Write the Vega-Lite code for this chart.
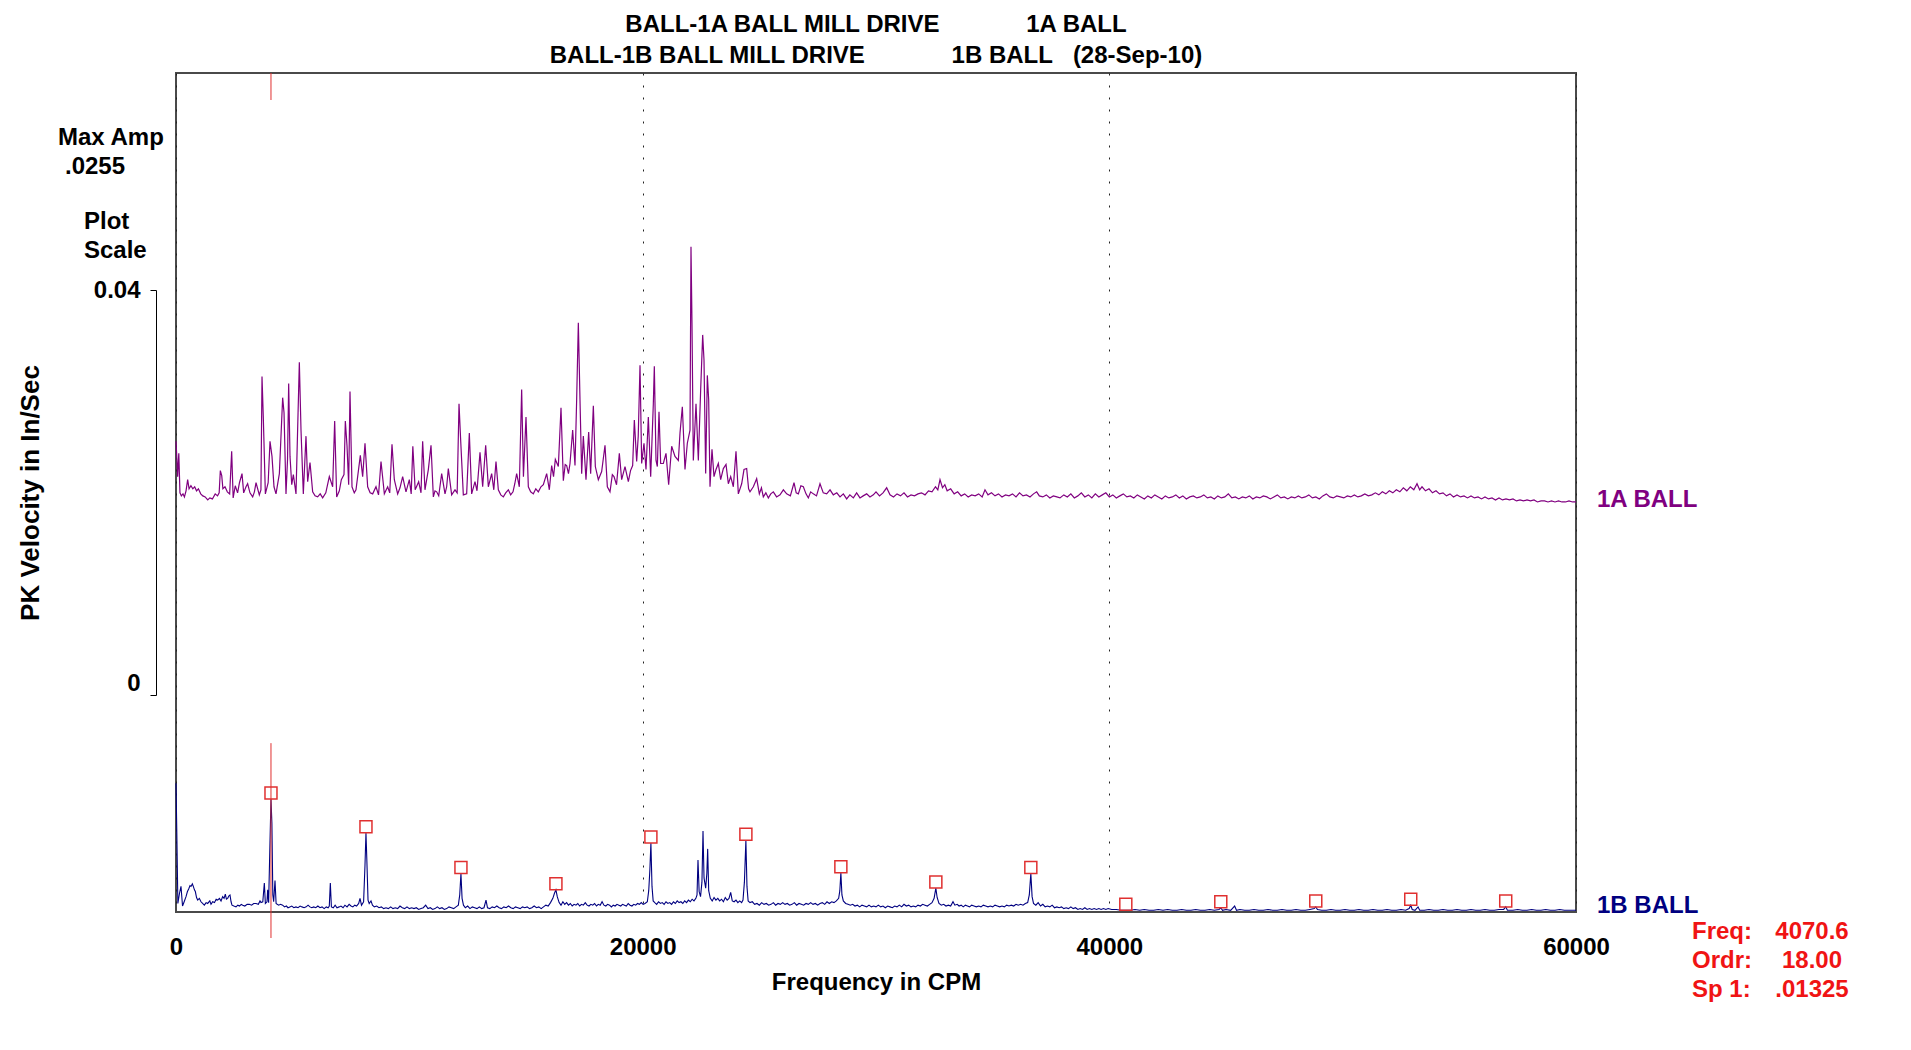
{
  "$schema": "https://vega.github.io/schema/vega-lite/v6.json",
  "width": 1400,
  "height": 839,
  "autosize": {"type": "none"},
  "padding": {"left": 176, "top": 73, "right": 335, "bottom": 138},
  "background": "white",
  "config": {
    "font": "Liberation Sans",
    "view": {"stroke": "#4a4a4a", "strokeWidth": 2},
    "text": {"font": "Liberation Sans", "fontWeight": "bold", "fontSize": 24}
  },
  "title": {
    "text": [
      "BALL-1A BALL MILL DRIVE\u00a0\u00a0\u00a0\u00a0\u00a0\u00a0\u00a0\u00a0\u00a0\u00a0\u00a0\u00a0\u00a01A BALL",
      "BALL-1B BALL MILL DRIVE\u00a0\u00a0\u00a0\u00a0\u00a0\u00a0\u00a0\u00a0\u00a0\u00a0\u00a0\u00a0\u00a01B BALL\u00a0\u00a0\u00a0(28-Sep-10)"
    ],
    "frame": "group",
    "anchor": "middle",
    "font": "Liberation Sans",
    "fontSize": 24,
    "fontWeight": "bold",
    "color": "black",
    "lineHeight": 31,
    "offset": 5
  },
  "datasets": {
    "ball1a": [
      {"cpm":0,"amp":0.0063},{"cpm":40,"amp":0.0045},{"cpm":70,"amp":0.0028},{"cpm":120,"amp":0.0051},{"cpm":170,"amp":0.0012},
      {"cpm":230,"amp":0.0009},{"cpm":300,"amp":0.0011},{"cpm":360,"amp":0.0008},{"cpm":430,"amp":0.0014},{"cpm":500,"amp":0.0025},
      {"cpm":560,"amp":0.0016},{"cpm":640,"amp":0.0019},{"cpm":720,"amp":0.0016},{"cpm":800,"amp":0.0018},{"cpm":880,"amp":0.0014},
      {"cpm":960,"amp":0.0016},{"cpm":1060,"amp":0.0011},{"cpm":1150,"amp":0.0009},{"cpm":1250,"amp":0.0008},{"cpm":1360,"amp":0.0005},
      {"cpm":1450,"amp":0.0007},{"cpm":1560,"amp":0.0006},{"cpm":1680,"amp":0.0011},{"cpm":1780,"amp":0.0009},{"cpm":1850,"amp":0.0012},
      {"cpm":1900,"amp":0.0034},{"cpm":1960,"amp":0.0029},{"cpm":2010,"amp":0.0016},{"cpm":2100,"amp":0.0018},{"cpm":2200,"amp":0.0013},
      {"cpm":2300,"amp":0.0011},{"cpm":2386,"amp":0.0053},{"cpm":2450,"amp":0.0007},{"cpm":2540,"amp":0.0019},{"cpm":2640,"amp":0.0012},
      {"cpm":2720,"amp":0.0022},{"cpm":2829,"amp":0.0031},{"cpm":2900,"amp":0.0012},{"cpm":3000,"amp":0.0018},{"cpm":3070,"amp":0.0021},
      {"cpm":3170,"amp":0.0012},{"cpm":3286,"amp":0.0008},{"cpm":3360,"amp":0.0013},{"cpm":3430,"amp":0.0022},{"cpm":3571,"amp":0.0010},
      {"cpm":3640,"amp":0.0015},{"cpm":3686,"amp":0.0127},{"cpm":3740,"amp":0.0088},{"cpm":3830,"amp":0.0011},{"cpm":3950,"amp":0.0022},
      {"cpm":4029,"amp":0.0063},{"cpm":4114,"amp":0.0048},{"cpm":4200,"amp":0.0018},{"cpm":4286,"amp":0.0011},{"cpm":4430,"amp":0.0031},
      {"cpm":4571,"amp":0.0106},{"cpm":4630,"amp":0.0091},{"cpm":4714,"amp":0.0011},{"cpm":4780,"amp":0.0045},{"cpm":4829,"amp":0.0120},
      {"cpm":4886,"amp":0.0048},{"cpm":4960,"amp":0.0020},{"cpm":5029,"amp":0.0030},{"cpm":5143,"amp":0.0011},{"cpm":5286,"amp":0.0141},
      {"cpm":5357,"amp":0.0074},{"cpm":5457,"amp":0.0011},{"cpm":5571,"amp":0.0068},{"cpm":5643,"amp":0.0023},{"cpm":5743,"amp":0.0042},
      {"cpm":5857,"amp":0.0013},{"cpm":5960,"amp":0.0009},{"cpm":6071,"amp":0.0008},{"cpm":6180,"amp":0.0011},{"cpm":6286,"amp":0.0007},
      {"cpm":6420,"amp":0.0012},{"cpm":6571,"amp":0.0028},{"cpm":6714,"amp":0.0018},{"cpm":6800,"amp":0.0083},{"cpm":6886,"amp":0.0008},
      {"cpm":7000,"amp":0.0014},{"cpm":7086,"amp":0.0025},{"cpm":7200,"amp":0.0030},{"cpm":7257,"amp":0.0083},{"cpm":7330,"amp":0.0058},
      {"cpm":7400,"amp":0.0020},{"cpm":7457,"amp":0.0112},{"cpm":7543,"amp":0.0018},{"cpm":7640,"amp":0.0012},{"cpm":7714,"amp":0.0015},
      {"cpm":7900,"amp":0.0049},{"cpm":8000,"amp":0.0028},{"cpm":8100,"amp":0.0061},{"cpm":8214,"amp":0.0018},{"cpm":8320,"amp":0.0012},
      {"cpm":8429,"amp":0.0011},{"cpm":8571,"amp":0.0018},{"cpm":8680,"amp":0.0010},{"cpm":8786,"amp":0.0043},{"cpm":8929,"amp":0.0011},
      {"cpm":9071,"amp":0.0018},{"cpm":9160,"amp":0.0012},{"cpm":9257,"amp":0.0060},{"cpm":9357,"amp":0.0025},{"cpm":9500,"amp":0.0011},
      {"cpm":9600,"amp":0.0017},{"cpm":9714,"amp":0.0028},{"cpm":9857,"amp":0.0013},{"cpm":10000,"amp":0.0025},{"cpm":10080,"amp":0.0011},
      {"cpm":10150,"amp":0.0058},{"cpm":10250,"amp":0.0015},{"cpm":10400,"amp":0.0023},{"cpm":10500,"amp":0.0012},{"cpm":10571,"amp":0.0063},
      {"cpm":10670,"amp":0.0015},{"cpm":10814,"amp":0.0035},{"cpm":10929,"amp":0.0059},{"cpm":11029,"amp":0.0008},{"cpm":11100,"amp":0.0014},
      {"cpm":11171,"amp":0.0013},{"cpm":11260,"amp":0.0009},{"cpm":11386,"amp":0.0031},{"cpm":11529,"amp":0.0011},{"cpm":11600,"amp":0.0018},
      {"cpm":11671,"amp":0.0036},{"cpm":11814,"amp":0.0010},{"cpm":11957,"amp":0.0015},{"cpm":12050,"amp":0.0012},{"cpm":12129,"amp":0.0100},
      {"cpm":12200,"amp":0.0064},{"cpm":12314,"amp":0.0010},{"cpm":12457,"amp":0.0011},{"cpm":12571,"amp":0.0071},{"cpm":12671,"amp":0.0011},
      {"cpm":12814,"amp":0.0023},{"cpm":12900,"amp":0.0014},{"cpm":13029,"amp":0.0052},{"cpm":13143,"amp":0.0018},{"cpm":13272,"amp":0.0059},
      {"cpm":13386,"amp":0.0018},{"cpm":13529,"amp":0.0031},{"cpm":13620,"amp":0.0015},{"cpm":13714,"amp":0.0043},{"cpm":13814,"amp":0.0015},
      {"cpm":13920,"amp":0.0010},{"cpm":14029,"amp":0.0008},{"cpm":14130,"amp":0.0012},{"cpm":14243,"amp":0.0015},{"cpm":14343,"amp":0.0010},
      {"cpm":14443,"amp":0.0013},{"cpm":14520,"amp":0.0021},{"cpm":14600,"amp":0.0031},{"cpm":14714,"amp":0.0018},{"cpm":14814,"amp":0.0114},
      {"cpm":14890,"amp":0.0028},{"cpm":15000,"amp":0.0087},{"cpm":15100,"amp":0.0018},{"cpm":15200,"amp":0.0013},{"cpm":15314,"amp":0.0011},
      {"cpm":15420,"amp":0.0016},{"cpm":15529,"amp":0.0013},{"cpm":15640,"amp":0.0018},{"cpm":15743,"amp":0.0020},{"cpm":15886,"amp":0.0031},
      {"cpm":16000,"amp":0.0015},{"cpm":16100,"amp":0.0039},{"cpm":16180,"amp":0.0028},{"cpm":16257,"amp":0.0045},{"cpm":16386,"amp":0.0038},
      {"cpm":16500,"amp":0.0096},{"cpm":16600,"amp":0.0024},{"cpm":16680,"amp":0.0040},{"cpm":16743,"amp":0.0039},{"cpm":16820,"amp":0.0031},
      {"cpm":16886,"amp":0.0041},{"cpm":17000,"amp":0.0074},{"cpm":17100,"amp":0.0039},{"cpm":17171,"amp":0.0104},{"cpm":17243,"amp":0.0180},
      {"cpm":17314,"amp":0.0104},{"cpm":17386,"amp":0.0031},{"cpm":17457,"amp":0.0068},{"cpm":17571,"amp":0.0025},{"cpm":17686,"amp":0.0072},
      {"cpm":17771,"amp":0.0031},{"cpm":17886,"amp":0.0098},{"cpm":17971,"amp":0.0038},{"cpm":18100,"amp":0.0025},{"cpm":18243,"amp":0.0033},
      {"cpm":18386,"amp":0.0059},{"cpm":18486,"amp":0.0018},{"cpm":18600,"amp":0.0013},{"cpm":18700,"amp":0.0030},{"cpm":18771,"amp":0.0028},
      {"cpm":18880,"amp":0.0020},{"cpm":19000,"amp":0.0051},{"cpm":19100,"amp":0.0025},{"cpm":19243,"amp":0.0038},{"cpm":19386,"amp":0.0023},
      {"cpm":19480,"amp":0.0034},{"cpm":19571,"amp":0.0039},{"cpm":19643,"amp":0.0084},{"cpm":19743,"amp":0.0043},{"cpm":19810,"amp":0.0068},
      {"cpm":19886,"amp":0.0138},{"cpm":19957,"amp":0.0041},{"cpm":20057,"amp":0.0061},{"cpm":20143,"amp":0.0035},{"cpm":20243,"amp":0.0087},
      {"cpm":20343,"amp":0.0028},{"cpm":20457,"amp":0.0100},{"cpm":20500,"amp":0.0137},{"cpm":20572,"amp":0.0044},{"cpm":20629,"amp":0.0038},
      {"cpm":20700,"amp":0.0092},{"cpm":20771,"amp":0.0041},{"cpm":20886,"amp":0.0041},{"cpm":21000,"amp":0.0051},{"cpm":21114,"amp":0.0020},
      {"cpm":21243,"amp":0.0058},{"cpm":21386,"amp":0.0048},{"cpm":21529,"amp":0.0044},{"cpm":21600,"amp":0.0071},{"cpm":21700,"amp":0.0097},
      {"cpm":21814,"amp":0.0035},{"cpm":21914,"amp":0.0061},{"cpm":22029,"amp":0.0074},{"cpm":22071,"amp":0.0255},{"cpm":22114,"amp":0.0179},
      {"cpm":22171,"amp":0.0044},{"cpm":22286,"amp":0.0100},{"cpm":22386,"amp":0.0044},{"cpm":22486,"amp":0.0114},{"cpm":22572,"amp":0.0168},
      {"cpm":22629,"amp":0.0143},{"cpm":22700,"amp":0.0031},{"cpm":22771,"amp":0.0128},{"cpm":22829,"amp":0.0104},{"cpm":22886,"amp":0.0018},
      {"cpm":22971,"amp":0.0055},{"cpm":23057,"amp":0.0028},{"cpm":23143,"amp":0.0035},{"cpm":23243,"amp":0.0041},{"cpm":23343,"amp":0.0025},
      {"cpm":23457,"amp":0.0036},{"cpm":23572,"amp":0.0040},{"cpm":23672,"amp":0.0021},{"cpm":23772,"amp":0.0028},{"cpm":23886,"amp":0.0018},
      {"cpm":24000,"amp":0.0053},{"cpm":24100,"amp":0.0011},{"cpm":24243,"amp":0.0021},{"cpm":24343,"amp":0.0035},{"cpm":24457,"amp":0.0036},
      {"cpm":24540,"amp":0.0016},{"cpm":24600,"amp":0.0013},{"cpm":24743,"amp":0.0018},{"cpm":24886,"amp":0.0026},{"cpm":25000,"amp":0.0011},
      {"cpm":25090,"amp":0.0017},{"cpm":25171,"amp":0.0008},{"cpm":25280,"amp":0.0012},{"cpm":25386,"amp":0.0007},{"cpm":25490,"amp":0.0011},
      {"cpm":25600,"amp":0.0013},{"cpm":25740,"amp":0.0008},{"cpm":25886,"amp":0.0010},{"cpm":26030,"amp":0.0015},{"cpm":26171,"amp":0.0011},
      {"cpm":26330,"amp":0.0009},{"cpm":26486,"amp":0.0022},{"cpm":26580,"amp":0.0012},{"cpm":26672,"amp":0.0011},{"cpm":26780,"amp":0.0019},
      {"cpm":26886,"amp":0.0018},{"cpm":27000,"amp":0.0011},{"cpm":27100,"amp":0.0007},{"cpm":27200,"amp":0.0013},{"cpm":27314,"amp":0.0011},
      {"cpm":27450,"amp":0.0009},{"cpm":27600,"amp":0.0021},{"cpm":27740,"amp":0.0012},{"cpm":27886,"amp":0.0011},{"cpm":28030,"amp":0.0015},
      {"cpm":28171,"amp":0.0010},{"cpm":28320,"amp":0.0012},{"cpm":28457,"amp":0.0008},{"cpm":28600,"amp":0.0011},{"cpm":28743,"amp":0.0006},
      {"cpm":28880,"amp":0.0010},{"cpm":29029,"amp":0.0007},{"cpm":29170,"amp":0.0012},{"cpm":29314,"amp":0.0007},{"cpm":29450,"amp":0.0009},
      {"cpm":29600,"amp":0.0011},{"cpm":29740,"amp":0.0008},{"cpm":29886,"amp":0.0010},{"cpm":30000,"amp":0.0013},{"cpm":30150,"amp":0.0009},
      {"cpm":30300,"amp":0.0012},{"cpm":30457,"amp":0.0017},{"cpm":30600,"amp":0.0010},{"cpm":30750,"amp":0.0008},{"cpm":30900,"amp":0.0011},
      {"cpm":31050,"amp":0.0009},{"cpm":31200,"amp":0.0012},{"cpm":31350,"amp":0.0008},{"cpm":31500,"amp":0.0010},{"cpm":31650,"amp":0.0009},
      {"cpm":31800,"amp":0.0011},{"cpm":31950,"amp":0.0012},{"cpm":32100,"amp":0.0010},{"cpm":32250,"amp":0.0014},{"cpm":32400,"amp":0.0013},
      {"cpm":32550,"amp":0.0018},{"cpm":32650,"amp":0.0015},{"cpm":32743,"amp":0.0025},{"cpm":32850,"amp":0.0017},{"cpm":32950,"amp":0.0020},
      {"cpm":33050,"amp":0.0014},{"cpm":33200,"amp":0.0016},{"cpm":33350,"amp":0.0011},{"cpm":33500,"amp":0.0013},{"cpm":33650,"amp":0.0009},
      {"cpm":33800,"amp":0.0011},{"cpm":33950,"amp":0.0008},{"cpm":34100,"amp":0.0010},{"cpm":34250,"amp":0.0009},{"cpm":34400,"amp":0.0011},
      {"cpm":34550,"amp":0.0008},{"cpm":34671,"amp":0.0015},{"cpm":34800,"amp":0.0010},{"cpm":34950,"amp":0.0012},{"cpm":35100,"amp":0.0009},
      {"cpm":35250,"amp":0.0011},{"cpm":35400,"amp":0.0008},{"cpm":35550,"amp":0.0010},{"cpm":35700,"amp":0.0009},{"cpm":35850,"amp":0.0011},
      {"cpm":36000,"amp":0.0008},{"cpm":36150,"amp":0.0012},{"cpm":36300,"amp":0.0009},{"cpm":36450,"amp":0.0010},{"cpm":36600,"amp":0.0008},
      {"cpm":36750,"amp":0.0011},{"cpm":36886,"amp":0.0013},{"cpm":37000,"amp":0.0009},{"cpm":37150,"amp":0.0008},{"cpm":37300,"amp":0.0010},
      {"cpm":37450,"amp":0.0007},{"cpm":37600,"amp":0.0009},{"cpm":37750,"amp":0.0008},{"cpm":37886,"amp":0.0007},{"cpm":38050,"amp":0.0010},
      {"cpm":38200,"amp":0.0008},{"cpm":38350,"amp":0.0011},{"cpm":38500,"amp":0.0007},{"cpm":38650,"amp":0.0009},{"cpm":38800,"amp":0.0012},
      {"cpm":38950,"amp":0.0008},{"cpm":39100,"amp":0.0010},{"cpm":39250,"amp":0.0007},{"cpm":39400,"amp":0.0011},{"cpm":39550,"amp":0.0008},
      {"cpm":39700,"amp":0.0010},{"cpm":39850,"amp":0.0012},{"cpm":40000,"amp":0.0008},{"cpm":40150,"amp":0.0010},{"cpm":40300,"amp":0.0007},
      {"cpm":40450,"amp":0.0009},{"cpm":40600,"amp":0.0011},{"cpm":40750,"amp":0.0008},{"cpm":40900,"amp":0.0009},{"cpm":41050,"amp":0.0007},
      {"cpm":41200,"amp":0.0010},{"cpm":41350,"amp":0.0008},{"cpm":41500,"amp":0.0006},{"cpm":41650,"amp":0.0009},{"cpm":41800,"amp":0.0007},
      {"cpm":41950,"amp":0.0010},{"cpm":42100,"amp":0.0008},{"cpm":42250,"amp":0.0006},{"cpm":42400,"amp":0.0009},{"cpm":42550,"amp":0.0007},
      {"cpm":42700,"amp":0.0008},{"cpm":42850,"amp":0.0010},{"cpm":43000,"amp":0.0007},{"cpm":43150,"amp":0.0009},{"cpm":43300,"amp":0.0006},
      {"cpm":43450,"amp":0.0008},{"cpm":43600,"amp":0.0009},{"cpm":43750,"amp":0.0007},{"cpm":43900,"amp":0.0008},{"cpm":44050,"amp":0.0010},
      {"cpm":44200,"amp":0.0007},{"cpm":44350,"amp":0.0008},{"cpm":44500,"amp":0.0006},{"cpm":44650,"amp":0.0009},{"cpm":44800,"amp":0.0007},
      {"cpm":44950,"amp":0.0008},{"cpm":45100,"amp":0.0011},{"cpm":45250,"amp":0.0007},{"cpm":45400,"amp":0.0008},{"cpm":45550,"amp":0.0006},
      {"cpm":45700,"amp":0.0008},{"cpm":45850,"amp":0.0007},{"cpm":46000,"amp":0.0009},{"cpm":46150,"amp":0.0006},{"cpm":46300,"amp":0.0008},
      {"cpm":46450,"amp":0.0007},{"cpm":46600,"amp":0.0009},{"cpm":46750,"amp":0.0008},{"cpm":46900,"amp":0.0006},{"cpm":47050,"amp":0.0008},
      {"cpm":47200,"amp":0.0010},{"cpm":47350,"amp":0.0007},{"cpm":47500,"amp":0.0008},{"cpm":47650,"amp":0.0006},{"cpm":47800,"amp":0.0008},
      {"cpm":47950,"amp":0.0007},{"cpm":48100,"amp":0.0009},{"cpm":48250,"amp":0.0007},{"cpm":48400,"amp":0.0008},{"cpm":48550,"amp":0.0010},
      {"cpm":48700,"amp":0.0007},{"cpm":48850,"amp":0.0008},{"cpm":49000,"amp":0.0006},{"cpm":49150,"amp":0.0009},{"cpm":49300,"amp":0.0011},
      {"cpm":49450,"amp":0.0008},{"cpm":49600,"amp":0.0007},{"cpm":49750,"amp":0.0009},{"cpm":49900,"amp":0.0008},{"cpm":50050,"amp":0.0007},
      {"cpm":50200,"amp":0.0009},{"cpm":50350,"amp":0.0008},{"cpm":50500,"amp":0.0010},{"cpm":50650,"amp":0.0008},{"cpm":50800,"amp":0.0009},
      {"cpm":50950,"amp":0.0011},{"cpm":51100,"amp":0.0009},{"cpm":51250,"amp":0.0010},{"cpm":51400,"amp":0.0012},{"cpm":51550,"amp":0.0010},
      {"cpm":51700,"amp":0.0013},{"cpm":51850,"amp":0.0011},{"cpm":52000,"amp":0.0014},{"cpm":52150,"amp":0.0012},{"cpm":52300,"amp":0.0015},
      {"cpm":52450,"amp":0.0013},{"cpm":52600,"amp":0.0017},{"cpm":52750,"amp":0.0014},{"cpm":52900,"amp":0.0018},{"cpm":53050,"amp":0.0015},
      {"cpm":53186,"amp":0.0021},{"cpm":53300,"amp":0.0015},{"cpm":53400,"amp":0.0018},{"cpm":53550,"amp":0.0014},{"cpm":53700,"amp":0.0016},
      {"cpm":53850,"amp":0.0012},{"cpm":54000,"amp":0.0014},{"cpm":54150,"amp":0.0011},{"cpm":54300,"amp":0.0012},{"cpm":54450,"amp":0.0009},
      {"cpm":54600,"amp":0.0011},{"cpm":54750,"amp":0.0008},{"cpm":54900,"amp":0.0010},{"cpm":55050,"amp":0.0008},{"cpm":55200,"amp":0.0009},
      {"cpm":55350,"amp":0.0007},{"cpm":55500,"amp":0.0009},{"cpm":55650,"amp":0.0007},{"cpm":55800,"amp":0.0008},{"cpm":55950,"amp":0.0006},
      {"cpm":56100,"amp":0.0008},{"cpm":56250,"amp":0.0006},{"cpm":56400,"amp":0.0007},{"cpm":56550,"amp":0.0005},{"cpm":56700,"amp":0.0007},
      {"cpm":56850,"amp":0.0005},{"cpm":57000,"amp":0.0006},{"cpm":57150,"amp":0.0005},{"cpm":57300,"amp":0.0006},{"cpm":57450,"amp":0.0004},
      {"cpm":57600,"amp":0.0005},{"cpm":57750,"amp":0.0004},{"cpm":57900,"amp":0.0005},{"cpm":58050,"amp":0.0004},{"cpm":58200,"amp":0.0005},
      {"cpm":58350,"amp":0.0003},{"cpm":58500,"amp":0.0004},{"cpm":58650,"amp":0.0004},{"cpm":58800,"amp":0.0003},{"cpm":58950,"amp":0.0004},
      {"cpm":59100,"amp":0.0003},{"cpm":59250,"amp":0.0004},{"cpm":59400,"amp":0.0003},{"cpm":59550,"amp":0.0003},{"cpm":59700,"amp":0.0004},
      {"cpm":59850,"amp":0.0003},{"cpm":60000,"amp":0.0003}
    ],
    "ball1b": [
      {"cpm":0,"amp":0.0151},{"cpm":35,"amp":0.0093},{"cpm":80,"amp":0.0010},{"cpm":150,"amp":0.0022},{"cpm":214,"amp":0.0030},
      {"cpm":280,"amp":0.0007},{"cpm":350,"amp":0.0012},{"cpm":429,"amp":0.0018},{"cpm":490,"amp":0.0024},{"cpm":543,"amp":0.0027},
      {"cpm":600,"amp":0.0031},{"cpm":643,"amp":0.0030},{"cpm":700,"amp":0.0033},{"cpm":743,"amp":0.0030},{"cpm":790,"amp":0.0026},
      {"cpm":829,"amp":0.0024},{"cpm":880,"amp":0.0017},{"cpm":929,"amp":0.0014},{"cpm":1000,"amp":0.0016},{"cpm":1071,"amp":0.0012},
      {"cpm":1140,"amp":0.0010},{"cpm":1214,"amp":0.0008},{"cpm":1290,"amp":0.0011},{"cpm":1357,"amp":0.0010},{"cpm":1450,"amp":0.0013},
      {"cpm":1500,"amp":0.0009},{"cpm":1571,"amp":0.0012},{"cpm":1650,"amp":0.0011},{"cpm":1720,"amp":0.0015},{"cpm":1786,"amp":0.0014},
      {"cpm":1860,"amp":0.0016},{"cpm":1930,"amp":0.0013},{"cpm":2000,"amp":0.0018},{"cpm":2060,"amp":0.0016},{"cpm":2114,"amp":0.0021},
      {"cpm":2160,"amp":0.0015},{"cpm":2214,"amp":0.0016},{"cpm":2270,"amp":0.0019},{"cpm":2314,"amp":0.0020},{"cpm":2360,"amp":0.0012},
      {"cpm":2400,"amp":0.0008},{"cpm":2480,"amp":0.0007},{"cpm":2571,"amp":0.0006},{"cpm":2650,"amp":0.0008},{"cpm":2720,"amp":0.0007},
      {"cpm":2800,"amp":0.0009},{"cpm":2857,"amp":0.0008},{"cpm":2950,"amp":0.0007},{"cpm":3050,"amp":0.0009},{"cpm":3143,"amp":0.0009},
      {"cpm":3240,"amp":0.0008},{"cpm":3330,"amp":0.0010},{"cpm":3429,"amp":0.0010},{"cpm":3530,"amp":0.0009},{"cpm":3600,"amp":0.0013},
      {"cpm":3643,"amp":0.0011},{"cpm":3720,"amp":0.0012},{"cpm":3786,"amp":0.0034},{"cpm":3830,"amp":0.0010},{"cpm":3900,"amp":0.0012},
      {"cpm":3929,"amp":0.0026},{"cpm":3970,"amp":0.0011},{"cpm":4030,"amp":0.0084},{"cpm":4070.6,"amp":0.01325},{"cpm":4110,"amp":0.0104},
      {"cpm":4150,"amp":0.0020},{"cpm":4186,"amp":0.0012},{"cpm":4243,"amp":0.0037},{"cpm":4290,"amp":0.0010},{"cpm":4340,"amp":0.0009},
      {"cpm":4400,"amp":0.0008},{"cpm":4480,"amp":0.0009},{"cpm":4571,"amp":0.0008},{"cpm":4650,"amp":0.0006},{"cpm":4730,"amp":0.0007},
      {"cpm":4800,"amp":0.0005},{"cpm":4880,"amp":0.0006},{"cpm":4960,"amp":0.0007},{"cpm":5050,"amp":0.0005},{"cpm":5140,"amp":0.0006},
      {"cpm":5230,"amp":0.0005},{"cpm":5320,"amp":0.0007},{"cpm":5400,"amp":0.0006},{"cpm":5490,"amp":0.0005},{"cpm":5580,"amp":0.0006},
      {"cpm":5660,"amp":0.0008},{"cpm":5740,"amp":0.0006},{"cpm":5820,"amp":0.0005},{"cpm":5900,"amp":0.0006},{"cpm":5990,"amp":0.0005},
      {"cpm":6080,"amp":0.0007},{"cpm":6170,"amp":0.0005},{"cpm":6260,"amp":0.0006},{"cpm":6350,"amp":0.0004},{"cpm":6440,"amp":0.0006},
      {"cpm":6520,"amp":0.0005},{"cpm":6570,"amp":0.0007},{"cpm":6614,"amp":0.0034},{"cpm":6660,"amp":0.0006},{"cpm":6740,"amp":0.0005},
      {"cpm":6820,"amp":0.0008},{"cpm":6900,"amp":0.0005},{"cpm":6990,"amp":0.0006},{"cpm":7070,"amp":0.0007},{"cpm":7160,"amp":0.0005},
      {"cpm":7240,"amp":0.0008},{"cpm":7330,"amp":0.0006},{"cpm":7420,"amp":0.0009},{"cpm":7500,"amp":0.0007},{"cpm":7580,"amp":0.0006},
      {"cpm":7660,"amp":0.0008},{"cpm":7740,"amp":0.0007},{"cpm":7830,"amp":0.0010},{"cpm":7886,"amp":0.0016},{"cpm":7950,"amp":0.0008},
      {"cpm":8040,"amp":0.0012},{"cpm":8100,"amp":0.0055},{"cpm":8141.2,"amp":0.0093},{"cpm":8180,"amp":0.0060},{"cpm":8230,"amp":0.0014},
      {"cpm":8280,"amp":0.0010},{"cpm":8357,"amp":0.0013},{"cpm":8420,"amp":0.0008},{"cpm":8500,"amp":0.0006},{"cpm":8600,"amp":0.0007},
      {"cpm":8700,"amp":0.0005},{"cpm":8800,"amp":0.0006},{"cpm":8900,"amp":0.0004},{"cpm":9000,"amp":0.0005},{"cpm":9100,"amp":0.0004},
      {"cpm":9200,"amp":0.0006},{"cpm":9300,"amp":0.0004},{"cpm":9400,"amp":0.0005},{"cpm":9500,"amp":0.0004},{"cpm":9600,"amp":0.0007},
      {"cpm":9700,"amp":0.0005},{"cpm":9800,"amp":0.0004},{"cpm":9900,"amp":0.0006},{"cpm":10000,"amp":0.0004},{"cpm":10100,"amp":0.0005},
      {"cpm":10200,"amp":0.0004},{"cpm":10300,"amp":0.0005},{"cpm":10400,"amp":0.0003},{"cpm":10500,"amp":0.0004},{"cpm":10600,"amp":0.0005},
      {"cpm":10700,"amp":0.0008},{"cpm":10800,"amp":0.0004},{"cpm":10900,"amp":0.0005},{"cpm":11000,"amp":0.0003},{"cpm":11100,"amp":0.0004},
      {"cpm":11200,"amp":0.0006},{"cpm":11300,"amp":0.0004},{"cpm":11400,"amp":0.0005},{"cpm":11500,"amp":0.0003},{"cpm":11600,"amp":0.0004},
      {"cpm":11700,"amp":0.0006},{"cpm":11800,"amp":0.0005},{"cpm":11900,"amp":0.0004},{"cpm":12000,"amp":0.0006},{"cpm":12100,"amp":0.0008},
      {"cpm":12160,"amp":0.0020},{"cpm":12211.8,"amp":0.0045},{"cpm":12260,"amp":0.0016},{"cpm":12320,"amp":0.0008},{"cpm":12400,"amp":0.0005},
      {"cpm":12500,"amp":0.0007},{"cpm":12600,"amp":0.0004},{"cpm":12700,"amp":0.0006},{"cpm":12800,"amp":0.0005},{"cpm":12900,"amp":0.0004},
      {"cpm":13000,"amp":0.0006},{"cpm":13100,"amp":0.0004},{"cpm":13200,"amp":0.0005},{"cpm":13286,"amp":0.0014},{"cpm":13350,"amp":0.0005},
      {"cpm":13450,"amp":0.0004},{"cpm":13550,"amp":0.0006},{"cpm":13650,"amp":0.0005},{"cpm":13750,"amp":0.0007},{"cpm":13850,"amp":0.0005},
      {"cpm":13950,"amp":0.0004},{"cpm":14050,"amp":0.0006},{"cpm":14150,"amp":0.0005},{"cpm":14250,"amp":0.0007},{"cpm":14350,"amp":0.0005},
      {"cpm":14450,"amp":0.0004},{"cpm":14550,"amp":0.0006},{"cpm":14650,"amp":0.0005},{"cpm":14750,"amp":0.0004},{"cpm":14850,"amp":0.0006},
      {"cpm":14950,"amp":0.0005},{"cpm":15050,"amp":0.0006},{"cpm":15150,"amp":0.0004},{"cpm":15250,"amp":0.0005},{"cpm":15350,"amp":0.0007},
      {"cpm":15450,"amp":0.0005},{"cpm":15550,"amp":0.0006},{"cpm":15650,"amp":0.0004},{"cpm":15750,"amp":0.0006},{"cpm":15850,"amp":0.0008},
      {"cpm":15950,"amp":0.0007},{"cpm":16050,"amp":0.0011},{"cpm":16150,"amp":0.0016},{"cpm":16220,"amp":0.0022},{"cpm":16282.4,"amp":0.0026},
      {"cpm":16340,"amp":0.0018},{"cpm":16420,"amp":0.0011},{"cpm":16500,"amp":0.0008},{"cpm":16580,"amp":0.0012},{"cpm":16660,"amp":0.0009},
      {"cpm":16740,"amp":0.0011},{"cpm":16820,"amp":0.0008},{"cpm":16900,"amp":0.0010},{"cpm":16980,"amp":0.0007},{"cpm":17060,"amp":0.0009},
      {"cpm":17140,"amp":0.0008},{"cpm":17220,"amp":0.0010},{"cpm":17300,"amp":0.0007},{"cpm":17380,"amp":0.0009},{"cpm":17460,"amp":0.0008},
      {"cpm":17540,"amp":0.0011},{"cpm":17620,"amp":0.0008},{"cpm":17700,"amp":0.0007},{"cpm":17780,"amp":0.0009},{"cpm":17860,"amp":0.0008},
      {"cpm":17940,"amp":0.0010},{"cpm":18020,"amp":0.0007},{"cpm":18100,"amp":0.0009},{"cpm":18180,"amp":0.0008},{"cpm":18260,"amp":0.0012},
      {"cpm":18340,"amp":0.0008},{"cpm":18420,"amp":0.0007},{"cpm":18500,"amp":0.0009},{"cpm":18580,"amp":0.0008},{"cpm":18660,"amp":0.0006},
      {"cpm":18740,"amp":0.0008},{"cpm":18820,"amp":0.0007},{"cpm":18900,"amp":0.0009},{"cpm":18980,"amp":0.0008},{"cpm":19060,"amp":0.0007},
      {"cpm":19140,"amp":0.0009},{"cpm":19220,"amp":0.0008},{"cpm":19300,"amp":0.0007},{"cpm":19380,"amp":0.0010},{"cpm":19460,"amp":0.0008},
      {"cpm":19540,"amp":0.0007},{"cpm":19620,"amp":0.0009},{"cpm":19700,"amp":0.0008},{"cpm":19780,"amp":0.0010},{"cpm":19860,"amp":0.0009},
      {"cpm":19940,"amp":0.0011},{"cpm":20020,"amp":0.0009},{"cpm":20100,"amp":0.0010},{"cpm":20200,"amp":0.0012},{"cpm":20260,"amp":0.0025},
      {"cpm":20310,"amp":0.0050},{"cpm":20353,"amp":0.0081},{"cpm":20400,"amp":0.0030},{"cpm":20450,"amp":0.0013},{"cpm":20520,"amp":0.0011},
      {"cpm":20600,"amp":0.0009},{"cpm":20680,"amp":0.0012},{"cpm":20760,"amp":0.0010},{"cpm":20840,"amp":0.0011},{"cpm":20920,"amp":0.0009},
      {"cpm":21000,"amp":0.0012},{"cpm":21080,"amp":0.0010},{"cpm":21160,"amp":0.0011},{"cpm":21240,"amp":0.0009},{"cpm":21320,"amp":0.0012},
      {"cpm":21400,"amp":0.0010},{"cpm":21480,"amp":0.0013},{"cpm":21560,"amp":0.0011},{"cpm":21640,"amp":0.0012},{"cpm":21720,"amp":0.0010},
      {"cpm":21800,"amp":0.0013},{"cpm":21880,"amp":0.0011},{"cpm":21960,"amp":0.0014},{"cpm":22040,"amp":0.0012},{"cpm":22120,"amp":0.0015},
      {"cpm":22200,"amp":0.0013},{"cpm":22280,"amp":0.0016},{"cpm":22330,"amp":0.0020},{"cpm":22371,"amp":0.0061},{"cpm":22420,"amp":0.0024},
      {"cpm":22480,"amp":0.0018},{"cpm":22540,"amp":0.0035},{"cpm":22586,"amp":0.0095},{"cpm":22630,"amp":0.0040},{"cpm":22700,"amp":0.0028},
      {"cpm":22750,"amp":0.0045},{"cpm":22786,"amp":0.0074},{"cpm":22830,"amp":0.0025},{"cpm":22900,"amp":0.0016},{"cpm":22980,"amp":0.0013},
      {"cpm":23060,"amp":0.0017},{"cpm":23140,"amp":0.0014},{"cpm":23220,"amp":0.0016},{"cpm":23300,"amp":0.0013},{"cpm":23380,"amp":0.0015},
      {"cpm":23460,"amp":0.0012},{"cpm":23540,"amp":0.0017},{"cpm":23620,"amp":0.0014},{"cpm":23700,"amp":0.0016},{"cpm":23772,"amp":0.0023},
      {"cpm":23840,"amp":0.0013},{"cpm":23920,"amp":0.0012},{"cpm":24000,"amp":0.0014},{"cpm":24080,"amp":0.0011},{"cpm":24160,"amp":0.0013},
      {"cpm":24240,"amp":0.0011},{"cpm":24300,"amp":0.0014},{"cpm":24360,"amp":0.0035},{"cpm":24423.6,"amp":0.0084},{"cpm":24470,"amp":0.0030},
      {"cpm":24520,"amp":0.0013},{"cpm":24600,"amp":0.0011},{"cpm":24700,"amp":0.0012},{"cpm":24800,"amp":0.0009},{"cpm":24900,"amp":0.0010},
      {"cpm":25000,"amp":0.0008},{"cpm":25100,"amp":0.0011},{"cpm":25200,"amp":0.0009},{"cpm":25300,"amp":0.0010},{"cpm":25400,"amp":0.0008},
      {"cpm":25500,"amp":0.0009},{"cpm":25600,"amp":0.0011},{"cpm":25700,"amp":0.0008},{"cpm":25800,"amp":0.0010},{"cpm":25900,"amp":0.0009},
      {"cpm":26000,"amp":0.0011},{"cpm":26100,"amp":0.0009},{"cpm":26200,"amp":0.0010},{"cpm":26300,"amp":0.0008},{"cpm":26400,"amp":0.0009},
      {"cpm":26500,"amp":0.0011},{"cpm":26600,"amp":0.0008},{"cpm":26700,"amp":0.0010},{"cpm":26800,"amp":0.0009},{"cpm":26900,"amp":0.0008},
      {"cpm":27000,"amp":0.0010},{"cpm":27100,"amp":0.0009},{"cpm":27200,"amp":0.0011},{"cpm":27300,"amp":0.0009},{"cpm":27400,"amp":0.0010},
      {"cpm":27500,"amp":0.0008},{"cpm":27600,"amp":0.0010},{"cpm":27700,"amp":0.0011},{"cpm":27800,"amp":0.0009},{"cpm":27900,"amp":0.0012},
      {"cpm":28000,"amp":0.0010},{"cpm":28100,"amp":0.0012},{"cpm":28200,"amp":0.0011},{"cpm":28300,"amp":0.0013},{"cpm":28400,"amp":0.0016},
      {"cpm":28450,"amp":0.0025},{"cpm":28494.2,"amp":0.0046},{"cpm":28540,"amp":0.0020},{"cpm":28600,"amp":0.0013},{"cpm":28700,"amp":0.0010},
      {"cpm":28800,"amp":0.0009},{"cpm":28900,"amp":0.0008},{"cpm":29000,"amp":0.0009},{"cpm":29100,"amp":0.0007},{"cpm":29200,"amp":0.0008},
      {"cpm":29300,"amp":0.0006},{"cpm":29400,"amp":0.0008},{"cpm":29500,"amp":0.0007},{"cpm":29600,"amp":0.0006},{"cpm":29700,"amp":0.0008},
      {"cpm":29800,"amp":0.0006},{"cpm":29900,"amp":0.0007},{"cpm":30000,"amp":0.0006},{"cpm":30100,"amp":0.0008},{"cpm":30200,"amp":0.0006},
      {"cpm":30300,"amp":0.0007},{"cpm":30400,"amp":0.0005},{"cpm":30500,"amp":0.0007},{"cpm":30600,"amp":0.0006},{"cpm":30700,"amp":0.0005},
      {"cpm":30800,"amp":0.0007},{"cpm":30900,"amp":0.0006},{"cpm":31000,"amp":0.0008},{"cpm":31100,"amp":0.0006},{"cpm":31200,"amp":0.0009},
      {"cpm":31300,"amp":0.0007},{"cpm":31400,"amp":0.0008},{"cpm":31500,"amp":0.0006},{"cpm":31600,"amp":0.0007},{"cpm":31700,"amp":0.0006},
      {"cpm":31800,"amp":0.0008},{"cpm":31900,"amp":0.0007},{"cpm":32000,"amp":0.0009},{"cpm":32100,"amp":0.0008},{"cpm":32200,"amp":0.0007},
      {"cpm":32300,"amp":0.0009},{"cpm":32400,"amp":0.0011},{"cpm":32490,"amp":0.0016},{"cpm":32564.8,"amp":0.0028},{"cpm":32620,"amp":0.0017},
      {"cpm":32700,"amp":0.0010},{"cpm":32800,"amp":0.0008},{"cpm":32900,"amp":0.0009},{"cpm":33000,"amp":0.0007},{"cpm":33100,"amp":0.0008},
      {"cpm":33200,"amp":0.0007},{"cpm":33300,"amp":0.0012},{"cpm":33380,"amp":0.0008},{"cpm":33480,"amp":0.0009},{"cpm":33560,"amp":0.0007},
      {"cpm":33650,"amp":0.0008},{"cpm":33740,"amp":0.0006},{"cpm":33830,"amp":0.0008},{"cpm":33920,"amp":0.0007},{"cpm":34010,"amp":0.0006},
      {"cpm":34100,"amp":0.0008},{"cpm":34200,"amp":0.0007},{"cpm":34300,"amp":0.0006},{"cpm":34400,"amp":0.0007},{"cpm":34500,"amp":0.0006},
      {"cpm":34600,"amp":0.0008},{"cpm":34700,"amp":0.0007},{"cpm":34800,"amp":0.0006},{"cpm":34900,"amp":0.0007},{"cpm":35000,"amp":0.0006},
      {"cpm":35100,"amp":0.0008},{"cpm":35200,"amp":0.0007},{"cpm":35300,"amp":0.0006},{"cpm":35400,"amp":0.0007},{"cpm":35500,"amp":0.0006},
      {"cpm":35600,"amp":0.0008},{"cpm":35700,"amp":0.0007},{"cpm":35800,"amp":0.0008},{"cpm":35900,"amp":0.0007},{"cpm":36000,"amp":0.0009},
      {"cpm":36100,"amp":0.0008},{"cpm":36200,"amp":0.0009},{"cpm":36300,"amp":0.0008},{"cpm":36400,"amp":0.0010},{"cpm":36500,"amp":0.0011},
      {"cpm":36570,"amp":0.0020},{"cpm":36635.4,"amp":0.0045},{"cpm":36690,"amp":0.0018},{"cpm":36750,"amp":0.0010},{"cpm":36850,"amp":0.0008},
      {"cpm":36950,"amp":0.0011},{"cpm":37050,"amp":0.0007},{"cpm":37150,"amp":0.0009},{"cpm":37250,"amp":0.0006},{"cpm":37350,"amp":0.0007},
      {"cpm":37450,"amp":0.0006},{"cpm":37550,"amp":0.0008},{"cpm":37650,"amp":0.0005},{"cpm":37750,"amp":0.0006},{"cpm":37850,"amp":0.0005},
      {"cpm":37950,"amp":0.0006},{"cpm":38050,"amp":0.0004},{"cpm":38150,"amp":0.0005},{"cpm":38250,"amp":0.0004},{"cpm":38350,"amp":0.0006},
      {"cpm":38450,"amp":0.0004},{"cpm":38550,"amp":0.0005},{"cpm":38650,"amp":0.0003},{"cpm":38750,"amp":0.0004},{"cpm":38850,"amp":0.0003},
      {"cpm":38950,"amp":0.0005},{"cpm":39050,"amp":0.0003},{"cpm":39150,"amp":0.0004},{"cpm":39250,"amp":0.0003},{"cpm":39350,"amp":0.0004},
      {"cpm":39450,"amp":0.0003},{"cpm":39550,"amp":0.0004},{"cpm":39650,"amp":0.0003},{"cpm":39750,"amp":0.0004},{"cpm":39850,"amp":0.0003},
      {"cpm":39950,"amp":0.0004},{"cpm":40100,"amp":0.0003},{"cpm":40300,"amp":0.0003},{"cpm":40500,"amp":0.0002},{"cpm":40706,"amp":0.0002},
      {"cpm":40900,"amp":0.0002},{"cpm":41100,"amp":0.0003},{"cpm":41300,"amp":0.0002},{"cpm":41500,"amp":0.0003},{"cpm":41700,"amp":0.0002},
      {"cpm":41900,"amp":0.0002},{"cpm":42100,"amp":0.0003},{"cpm":42300,"amp":0.0002},{"cpm":42500,"amp":0.0003},{"cpm":42700,"amp":0.0002},
      {"cpm":42900,"amp":0.0002},{"cpm":43100,"amp":0.0003},{"cpm":43300,"amp":0.0002},{"cpm":43500,"amp":0.0002},{"cpm":43700,"amp":0.0003},
      {"cpm":43900,"amp":0.0002},{"cpm":44100,"amp":0.0002},{"cpm":44300,"amp":0.0003},{"cpm":44500,"amp":0.0002},{"cpm":44700,"amp":0.0003},
      {"cpm":44776.6,"amp":0.0005},{"cpm":44850,"amp":0.0002},{"cpm":45000,"amp":0.0003},{"cpm":45200,"amp":0.0002},{"cpm":45370,"amp":0.0007},
      {"cpm":45450,"amp":0.0002},{"cpm":45600,"amp":0.0003},{"cpm":45800,"amp":0.0002},{"cpm":46000,"amp":0.0002},{"cpm":46200,"amp":0.0003},
      {"cpm":46400,"amp":0.0002},{"cpm":46600,"amp":0.0002},{"cpm":46800,"amp":0.0003},{"cpm":47000,"amp":0.0002},{"cpm":47200,"amp":0.0002},
      {"cpm":47400,"amp":0.0003},{"cpm":47600,"amp":0.0002},{"cpm":47800,"amp":0.0002},{"cpm":48000,"amp":0.0003},{"cpm":48200,"amp":0.0002},
      {"cpm":48400,"amp":0.0002},{"cpm":48600,"amp":0.0003},{"cpm":48780,"amp":0.0004},{"cpm":48847.2,"amp":0.0006},{"cpm":48920,"amp":0.0003},
      {"cpm":49100,"amp":0.0002},{"cpm":49300,"amp":0.0002},{"cpm":49500,"amp":0.0003},{"cpm":49700,"amp":0.0002},{"cpm":49900,"amp":0.0002},
      {"cpm":50100,"amp":0.0003},{"cpm":50300,"amp":0.0002},{"cpm":50500,"amp":0.0002},{"cpm":50700,"amp":0.0003},{"cpm":50900,"amp":0.0002},
      {"cpm":51100,"amp":0.0002},{"cpm":51300,"amp":0.0003},{"cpm":51500,"amp":0.0002},{"cpm":51700,"amp":0.0002},{"cpm":51900,"amp":0.0003},
      {"cpm":52100,"amp":0.0002},{"cpm":52300,"amp":0.0002},{"cpm":52500,"amp":0.0003},{"cpm":52700,"amp":0.0002},{"cpm":52850,"amp":0.0004},
      {"cpm":52917.8,"amp":0.0008},{"cpm":52980,"amp":0.0003},{"cpm":53100,"amp":0.0002},{"cpm":53230,"amp":0.0006},{"cpm":53300,"amp":0.0002},
      {"cpm":53500,"amp":0.0002},{"cpm":53700,"amp":0.0003},{"cpm":53900,"amp":0.0002},{"cpm":54100,"amp":0.0002},{"cpm":54300,"amp":0.0003},
      {"cpm":54500,"amp":0.0002},{"cpm":54700,"amp":0.0002},{"cpm":54900,"amp":0.0003},{"cpm":55100,"amp":0.0002},{"cpm":55300,"amp":0.0002},
      {"cpm":55500,"amp":0.0003},{"cpm":55700,"amp":0.0002},{"cpm":55900,"amp":0.0002},{"cpm":56100,"amp":0.0003},{"cpm":56300,"amp":0.0002},
      {"cpm":56500,"amp":0.0002},{"cpm":56700,"amp":0.0003},{"cpm":56900,"amp":0.0003},{"cpm":56988.4,"amp":0.0006},{"cpm":57060,"amp":0.0002},
      {"cpm":57300,"amp":0.0002},{"cpm":57500,"amp":0.0003},{"cpm":57700,"amp":0.0002},{"cpm":57900,"amp":0.0002},{"cpm":58100,"amp":0.0003},
      {"cpm":58300,"amp":0.0002},{"cpm":58500,"amp":0.0002},{"cpm":58700,"amp":0.0003},{"cpm":58900,"amp":0.0002},{"cpm":59100,"amp":0.0002},
      {"cpm":59300,"amp":0.0003},{"cpm":59500,"amp":0.0002},{"cpm":59700,"amp":0.0002},{"cpm":60000,"amp":0.0002}
    ],
    "harmonics": [
      {"order":1,"cpm":4070.6,"amp":0.01325},{"order":2,"cpm":8141.2,"amp":0.0093},{"order":3,"cpm":12211.8,"amp":0.0045},
      {"order":4,"cpm":16282.4,"amp":0.0026},{"order":5,"cpm":20353,"amp":0.0081},{"order":6,"cpm":24423.6,"amp":0.0084},
      {"order":7,"cpm":28494.2,"amp":0.0046},{"order":8,"cpm":32564.8,"amp":0.0028},{"order":9,"cpm":36635.4,"amp":0.0045},
      {"order":10,"cpm":40706,"amp":0.0002},{"order":11,"cpm":44776.6,"amp":0.0005},{"order":12,"cpm":48847.2,"amp":0.0006},
      {"order":13,"cpm":52917.8,"amp":0.0008},{"order":14,"cpm":56988.4,"amp":0.0006}
    ]
  },
  "encoding": {
    "x": {
      "field": "cpm",
      "type": "quantitative",
      "scale": {"domain": [0, 60000], "nice": false, "zero": false},
      "axis": {
        "values": [0, 20000, 40000, 60000],
        "format": "d",
        "domain": false,
        "ticks": false,
        "grid": true,
        "gridColor": "#222222",
        "gridDash": [2, 10],
        "gridWidth": 1,
        "labelFont": "Liberation Sans",
        "labelFontSize": 24,
        "labelFontWeight": "bold",
        "labelColor": "black",
        "labelPadding": 23,
        "labelFlush": false,
        "title": "Frequency in CPM",
        "titleFont": "Liberation Sans",
        "titleFontSize": 24,
        "titleFontWeight": "bold",
        "titleColor": "black",
        "titlePadding": 11
      }
    }
  },
  "layer": [
    {
      "encoding": {
        "y": {"field": "amp", "type": "quantitative", "scale": {"domain": [-0.040198, 0.042667], "nice": false, "zero": false}, "axis": null}
      },
      "layer": [
        {"data": {"name": "ball1a"}, "mark": {"type": "line", "color": "#800080", "strokeWidth": 1.2, "interpolate": "linear"}},
        {
          "data": {"values": [{"cpm": 4070.6, "amp": 0.04, "amp2": 0.042667}]},
          "mark": {"type": "rule", "color": "#e03030", "strokeWidth": 1},
          "encoding": {"y2": {"field": "amp2"}}
        },
        {
          "data": {"values": [{"cpm": 60000, "amp": 0.0005, "label": "1A BALL"}]},
          "mark": {"type": "text", "align": "left", "baseline": "middle", "dx": 21, "color": "#800080"},
          "encoding": {"text": {"field": "label"}}
        }
      ]
    },
    {
      "encoding": {
        "y": {"field": "amp", "type": "quantitative", "scale": {"domain": [0, 0.098382], "nice": false, "zero": false}, "axis": null}
      },
      "layer": [
        {"data": {"name": "ball1b"}, "mark": {"type": "line", "color": "#000080", "strokeWidth": 1.1, "interpolate": "linear"}},
        {
          "data": {"values": [{"cpm": 4070.6, "amp": -0.00305, "amp2": 0.0198}]},
          "mark": {"type": "rule", "color": "#e03030", "strokeWidth": 1},
          "encoding": {"y2": {"field": "amp2"}}
        },
        {
          "data": {"name": "harmonics"},
          "mark": {"type": "point", "shape": "M-1,-2H1V0H-1Z", "size": 144, "filled": false, "color": "#e03030", "strokeWidth": 1.5, "opacity": 1}
        },
        {
          "data": {"values": [{"cpm": 60000, "amp": 0.00075, "label": "1B BALL"}]},
          "mark": {"type": "text", "align": "left", "baseline": "middle", "dx": 21, "color": "#000080"},
          "encoding": {"text": {"field": "label"}}
        },
        {
          "data": {"values": [
            {"cpm": 64971, "amp": -0.0023, "label": "Freq:"},
            {"cpm": 64971, "amp": -0.0057, "label": "Ordr:"},
            {"cpm": 64971, "amp": -0.0091, "label": "Sp 1:"}
          ]},
          "mark": {"type": "text", "align": "left", "baseline": "middle", "color": "#f01414"},
          "encoding": {"text": {"field": "label"}}
        },
        {
          "data": {"values": [
            {"cpm": 70114, "amp": -0.0023, "label": "4070.6"},
            {"cpm": 70114, "amp": -0.0057, "label": "18.00"},
            {"cpm": 70114, "amp": -0.0091, "label": ".01325"}
          ]},
          "mark": {"type": "text", "align": "center", "baseline": "middle", "color": "#f01414"},
          "encoding": {"text": {"field": "label"}}
        }
      ]
    },
    {
      "data": {"values": [
        {"cpm": -5057, "amp": 0.0550, "label": "Max Amp"},
        {"cpm": -4757, "amp": 0.0521, "label": ".0255"},
        {"cpm": -3943, "amp": 0.0467, "label": "Plot"},
        {"cpm": -3943, "amp": 0.0439, "label": "Scale"}
      ]},
      "mark": {"type": "text", "align": "left", "baseline": "middle", "color": "black"},
      "encoding": {
        "y": {
          "field": "amp",
          "type": "quantitative",
          "scale": {"domain": [0, 0.04], "range": [622, 217], "nice": false, "zero": false},
          "axis": {
            "orient": "left",
            "offset": 20,
            "values": [0, 0.04],
            "labelExpr": "datum.value == 0 ? '0' : '0.04'",
            "grid": false,
            "domainColor": "black",
            "domainWidth": 1,
            "tickColor": "black",
            "tickSize": 6,
            "labelFont": "Liberation Sans",
            "labelFontSize": 24,
            "labelFontWeight": "bold",
            "labelColor": "black",
            "labelPadding": 10,
            "labelBaseline": {"condition": {"test": "datum.value == 0", "value": "bottom"}, "value": "middle"},
            "title": "PK Velocity in In/Sec",
            "titleFont": "Liberation Sans",
            "titleFontSize": 26,
            "titleFontWeight": "bold",
            "titleColor": "black",
            "titlePadding": 50
          }
        },
        "text": {"field": "label"}
      }
    }
  ],
  "resolve": {"scale": {"y": "independent"}, "axis": {"y": "independent"}}
}
